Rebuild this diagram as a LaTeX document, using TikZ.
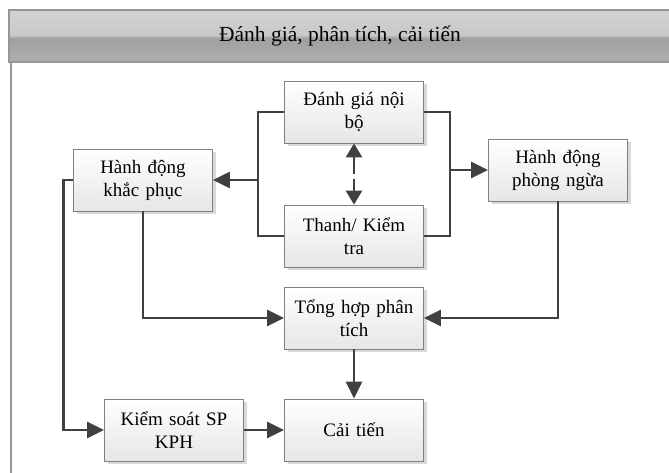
\documentclass[tikz,border=0pt]{standalone}
\usepackage{fontspec}
\setmainfont{Liberation Serif}
\usetikzlibrary{positioning, arrows.meta, shadows}
\definecolor{LineColour}{RGB}{64,64,64}
\definecolor{BoxEdge}{RGB}{128,128,128}
\definecolor{BoxLow}{RGB}{230,230,230}
\definecolor{HdrTop}{RGB}{222,222,222}
\definecolor{HdrMidA}{RGB}{200,200,200}
\definecolor{HdrMidB}{RGB}{160,160,160}
\definecolor{HdrLow}{RGB}{190,190,190}
\definecolor{FrameGrey}{RGB}{150,150,150}
\pgfdeclareverticalshading{hdrglass}{100bp}{color(0bp)=(HdrLow); color(48bp)=(HdrMidB); color(51bp)=(HdrMidA); color(100bp)=(HdrTop)}

\begin{document}
\begin{tikzpicture}[
  x=1pt, y=-1pt,
  procbox/.style={draw=BoxEdge, line width=0.8pt, top color=white, bottom color=BoxLow,
    minimum width=139pt, minimum height=62pt, align=center, inner sep=2pt,
    text width=132pt, font=\fontsize{19}{23}\selectfont,
    drop shadow={shadow xshift=3pt, shadow yshift=-3pt, fill=black!15, opacity=1}},
  link/.style={draw=LineColour, line width=2.8pt},
  tip/.style={-{Triangle[length=17pt, width=16pt]}},
]
\useasboundingbox (0,0) rectangle (669,472);
% Frame and header
\draw[FrameGrey, line width=1.2pt] (11,62) -- (11,480);
\path[shading=hdrglass, draw=FrameGrey, line width=1.2pt] (9,10) rectangle (675,62);
\node[font=\fontsize{21.5}{25}\selectfont] (title) at (340,36) {Đánh giá, phân tích, cải tiến};

% Boxes
\node[procbox] (audit)      at (354,112) {Đánh giá nội\\bộ};
\node[procbox] (inspect)    at (354,236) {Thanh/ Kiểm\\tra};
\node[procbox] (corrective) at (143,180) {Hành động\\khắc phục};
\node[procbox] (preventive) at (558,170) {Hành động\\phòng ngừa};
\node[procbox] (synth)      at (354,318) {Tổng hợp phân\\tích};
\node[procbox] (ncp)        at (174,430) {Kiểm soát SP\\KPH};
\node[procbox] (improve)    at (354,430) {Cải tiến};

% Split points
\coordinate (lsplit) at (258,180);
\coordinate (rsplit) at (450,170);

% Connectors
\draw[link] (audit.west) -| (lsplit) |- (inspect.west);
\draw[link, tip] (lsplit) -- (corrective.east);
\draw[link] (audit.east) -| (rsplit) |- (inspect.east);
\draw[link, tip] (rsplit) -- (preventive.west);
\draw[link, {Triangle[length=14pt, width=16pt]}-{Triangle[length=14pt, width=16pt]}, dash pattern=on 17pt off 5pt] (audit) -- (inspect);
\draw[link, tip] (corrective.south) |- (synth.west);
\draw[link, tip] (preventive.south) |- (synth.east);
\draw[link, tip] (synth) -- (improve);
\draw[link, tip] (corrective.west) -- ++(-10,0) |- (ncp.west);
\draw[link, tip] (ncp) -- (improve);
\end{tikzpicture}
\end{document}
